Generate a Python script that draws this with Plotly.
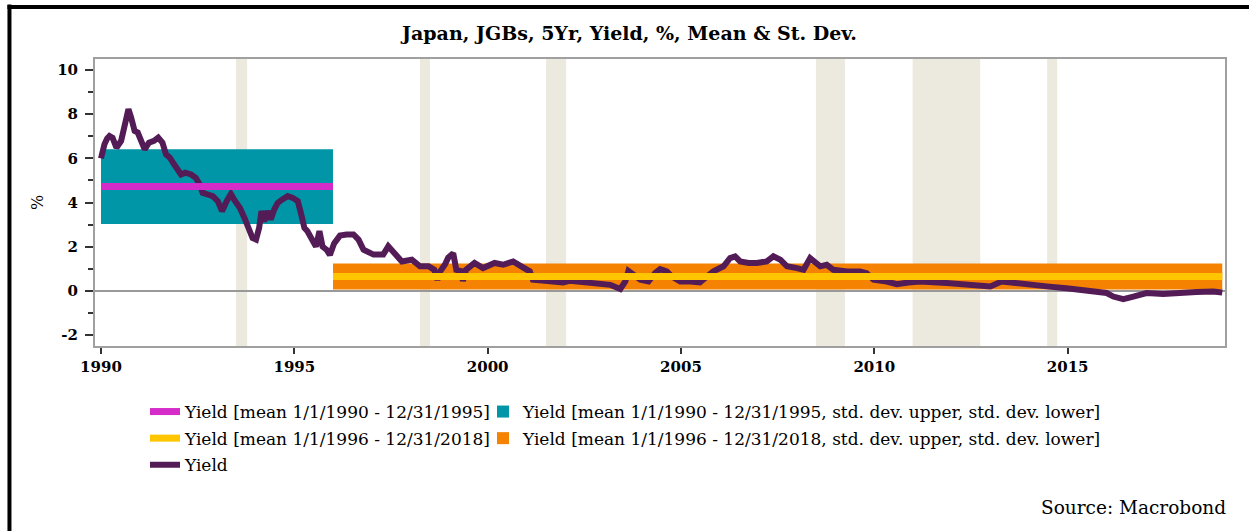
import plotly.graph_objects as go

# ---------------- data ----------------
yield_years = [
    1990.00, 1990.04, 1990.09, 1990.16, 1990.22, 1990.30, 1990.40, 1990.52, 1990.60, 1990.66,
    1990.71, 1990.78, 1990.87, 1990.95, 1991.03, 1991.13, 1991.24, 1991.37, 1991.48, 1991.59,
    1991.68, 1991.78, 1991.89, 1991.98, 1992.07, 1992.18, 1992.33, 1992.45, 1992.55, 1992.63,
    1992.76, 1992.89, 1993.02, 1993.13, 1993.25, 1993.36, 1993.47, 1993.59, 1993.71, 1993.82,
    1993.92, 1994.01, 1994.09, 1994.15, 1994.22, 1994.31, 1994.39, 1994.48, 1994.57, 1994.69,
    1994.83, 1994.96, 1995.09, 1995.17, 1995.26, 1995.34, 1995.46, 1995.56, 1995.65, 1995.73,
    1995.84, 1995.92, 1996.03, 1996.18, 1996.35, 1996.53, 1996.66, 1996.79, 1997.05, 1997.30,
    1997.43, 1997.60, 1997.78, 1998.04, 1998.25, 1998.47, 1998.62, 1998.70, 1998.76, 1998.90,
    1998.98, 1999.11, 1999.19, 1999.30, 1999.36, 1999.44, 1999.66, 1999.88, 2000.18, 2000.40,
    2000.66, 2000.87, 2001.09, 2001.17, 2001.52, 2001.95, 2002.12, 2002.30, 2002.64, 2002.91,
    2003.17, 2003.43, 2003.50, 2003.56, 2003.64, 2003.77, 2003.95, 2004.16, 2004.33, 2004.46,
    2004.63, 2004.76, 2004.98, 2005.24, 2005.49, 2005.67, 2005.84, 2006.10, 2006.27, 2006.40,
    2006.53, 2006.75, 2006.96, 2007.22, 2007.39, 2007.57, 2007.74, 2008.00, 2008.17, 2008.34,
    2008.47, 2008.60, 2008.77, 2008.94, 2009.29, 2009.63, 2009.80, 2009.98, 2010.32, 2010.58,
    2010.88, 2011.18, 2011.87, 2012.56, 2013.00, 2013.29, 2013.59, 2014.03, 2014.46, 2014.97,
    2015.32, 2015.75, 2016.01, 2016.18, 2016.44, 2016.70, 2017.04, 2017.47, 2017.90, 2018.33,
    2018.76, 2019.00,
]
yield_values = [
    6.00, 6.40, 6.64, 6.90, 7.01, 6.93, 6.48, 6.79, 7.39, 7.90,
    8.23, 7.85, 7.24, 7.17, 6.79, 6.41, 6.71, 6.79, 6.94, 6.71,
    6.18, 6.03, 5.73, 5.50, 5.27, 5.35, 5.27, 5.12, 4.82, 4.44,
    4.36, 4.29, 4.06, 3.61, 4.06, 4.39, 4.06, 3.76, 3.30, 2.77,
    2.39, 2.32, 2.85, 3.61, 3.15, 3.61, 3.23, 3.68, 3.98, 4.14,
    4.29, 4.21, 4.06, 3.53, 2.85, 2.70, 2.24, 2.00, 2.70, 2.00,
    1.85, 1.62, 2.15, 2.50, 2.55, 2.55, 2.32, 1.86, 1.64, 1.64,
    2.02, 1.64, 1.33, 1.41, 1.11, 1.11, 0.95, 0.50, 0.85, 1.20,
    1.50, 1.70, 0.95, 0.90, 0.45, 0.95, 1.26, 1.03, 1.26, 1.18,
    1.33, 1.11, 0.88, 0.50, 0.42, 0.38, 0.45, 0.42, 0.35, 0.35,
    0.27, 0.08, 0.30, 0.42, 0.90, 0.73, 0.50, 0.42, 0.80, 0.98,
    0.88, 0.65, 0.42, 0.42, 0.38, 0.65, 0.88, 1.11, 1.48, 1.56,
    1.33, 1.26, 1.26, 1.33, 1.56, 1.41, 1.11, 1.03, 0.95, 1.48,
    1.26, 1.11, 1.18, 0.95, 0.88, 0.88, 0.80, 0.50, 0.42, 0.30,
    0.38, 0.42, 0.35, 0.27, 0.20, 0.42, 0.35, 0.27, 0.20, 0.12,
    0.05, 0.02, -0.10, -0.26, -0.38, -0.26, -0.10, -0.14, -0.08, -0.05,
    -0.03, -0.08,
]

period_names = ["1/1/1990 - 12/31/1995", "1/1/1996 - 12/31/2018"]
period_start = [1990.0, 1996.0]
period_end = [1996.0, 2019.0]
period_mean = [4.72, 0.65]
period_std = [1.69, 0.59]

shade_start = [1993.49, 1998.25, 2001.51, 2008.49, 2010.99, 2014.47]
shade_end = [1993.78, 1998.51, 2002.03, 2009.24, 2012.74, 2014.73]

x_ticks = [1990, 1995, 2000, 2005, 2010, 2015]
y_ticks = [-2, 0, 2, 4, 6, 8, 10]
y_ticktext = ["-2", "0", "2", "4", "6", "8", "10"]
y_minor = [-1, 1, 3, 5, 7, 9]

# ---------------- style ----------------
SERIF = "DejaVu Serif"
C_MAG = "#D52BC8"
C_TEAL = "#0096A7"
C_YEL = "#FFC600"
C_ORG = "#F58200"
C_YIELD = "#541C56"
C_SHADE = "#ECE9DF"

fig = go.Figure()

band_colors = [C_TEAL, C_ORG]
mean_colors = [C_MAG, C_YEL]
band_ranks = [2, 4]
mean_ranks = [1, 3]

# std-dev bands as floating bars (drawn underneath the lines)
for i in range(2):
    lo = period_mean[i] - period_std[i]
    hi = period_mean[i] + period_std[i]
    fig.add_trace(go.Bar(
        x=[(period_start[i] + period_end[i]) / 2],
        width=[period_end[i] - period_start[i]],
        base=[lo], y=[hi - lo],
        marker=dict(color=band_colors[i], line=dict(width=0)),
        name=f"Yield [mean {period_names[i]}, std. dev. upper, std. dev. lower]",
        legend="legend2", legendrank=band_ranks[i], legendgroup=f"b{i}",
        hoverinfo="skip",
    ))

# yield line
fig.add_trace(go.Scatter(
    x=yield_years, y=yield_values, mode="lines",
    line=dict(color=C_YIELD, width=6),
    name="Yield", legend="legend", legendrank=5, legendgroup="y",
))

# means on top
for i in range(2):
    fig.add_trace(go.Scatter(
        x=[period_start[i], period_end[i]],
        y=[period_mean[i], period_mean[i]],
        mode="lines", line=dict(color=mean_colors[i], width=7),
        name=f"Yield [mean {period_names[i]}]",
        legend="legend", legendrank=mean_ranks[i], legendgroup=f"m{i}",
    ))

shapes = []
for s, e in zip(shade_start, shade_end):
    shapes.append(dict(type="rect", xref="x", yref="paper", x0=s, x1=e, y0=0, y1=1,
                       fillcolor=C_SHADE, line=dict(width=0), layer="below"))
# document frame lines (left and top), thick black
shapes.append(dict(type="line", xref="paper", yref="paper",
                   x0=-0.0757, x1=-0.0757, y0=1.19, y1=-0.7,
                   line=dict(color="black", width=4)))
shapes.append(dict(type="line", xref="paper", yref="paper",
                   x0=-0.0775, x1=1.05, y0=1.181, y1=1.181,
                   line=dict(color="black", width=4)))

tickfont = dict(family=SERIF, size=15, color="black", weight="bold")
legfont = dict(family=SERIF, size=17, color="black")

fig.update_layout(
    width=1249, height=531,
    margin=dict(l=95, r=24, t=59, b=185),
    paper_bgcolor="white", plot_bgcolor="white",
    showlegend=True, barmode="overlay",
    title=dict(text="Japan, JGBs, 5Yr, Yield, %, Mean & St. Dev.",
               font=dict(family=SERIF, size=19, color="black", weight="bold"),
               x=0.504, xref="container", xanchor="center",
               y=1 - 33 / 531, yref="container", yanchor="middle"),
    xaxis=dict(range=[1989.845, 2019.07], tickvals=x_ticks, ticktext=[str(v) for v in x_ticks],
               ticks="outside", ticklen=6, tickwidth=1.5, tickcolor="#333",
               showline=True, linecolor="#A0A0A0", linewidth=2, mirror=True,
               showgrid=False, zeroline=False, tickfont=tickfont),
    yaxis=dict(range=[-2.5, 10.5], tickvals=y_ticks, ticktext=y_ticktext,
               ticks="outside", ticklen=8, tickwidth=1.5, tickcolor="#333",
               ticklabelstandoff=4,
               minor=dict(tickvals=y_minor, ticks="outside", ticklen=5,
                          tickwidth=1.5, tickcolor="#333", showgrid=False),
               showline=True, linecolor="#A0A0A0", linewidth=2, mirror=True,
               showgrid=False, zeroline=True, zerolinecolor="#999999", zerolinewidth=1.5,
               tickfont=tickfont,
               title=dict(text="%", font=dict(family=SERIF, size=16, color="black"), standoff=10)),
    legend=dict(x=(145 - 95) / 1130, y=(346 - 394) / 287, xanchor="left", yanchor="top",
                orientation="v", font=legfont, bgcolor="rgba(0,0,0,0)",
                traceorder="grouped", tracegroupgap=1.5),
    legend2=dict(x=(483 - 95) / 1130, y=(346 - 394) / 287, xanchor="left", yanchor="top",
                 orientation="v", font=legfont, bgcolor="rgba(0,0,0,0)",
                 traceorder="grouped", tracegroupgap=1.5),
    shapes=shapes,
    annotations=[dict(text="Source: Macrobond", xref="paper", yref="paper",
                      x=(1228 - 95) / 1130, y=(346 - 507) / 287,
                      xanchor="right", yanchor="middle", showarrow=False,
                      font=dict(family=SERIF, size=18.5, color="black"))],
)

fig.write_html("out.html", config={"displayModeBar": False},
               post_script="document.body.style.margin='0';")
